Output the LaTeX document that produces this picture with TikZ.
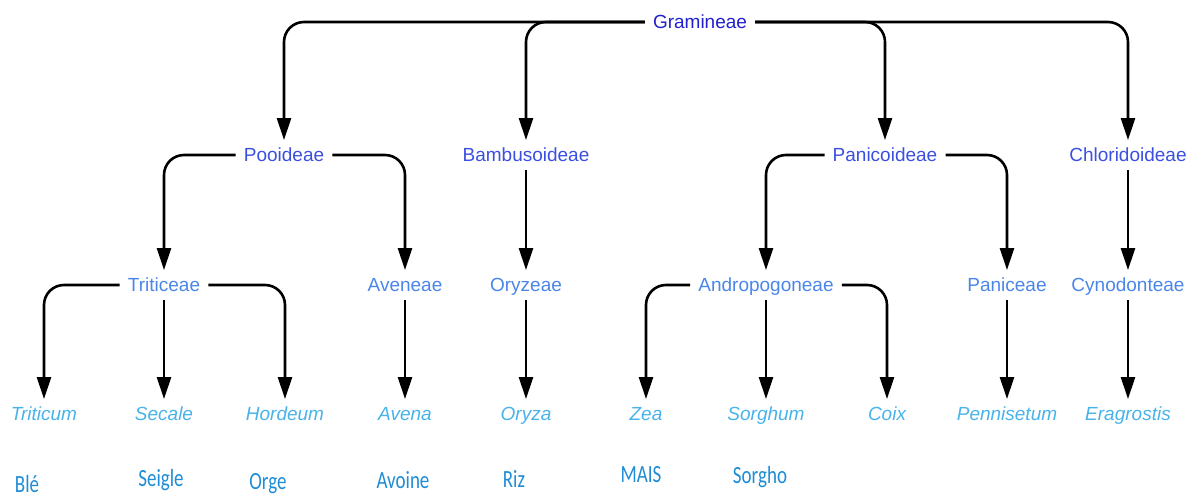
\documentclass[tikz,border=0pt]{standalone}
\usepackage{graphicx}
\usepackage{fontspec}
\setmainfont{Liberation Sans}
\newfontfamily\calib{Carlito}
\usetikzlibrary{arrows.meta}
\definecolor{cG}{HTML}{2020CC}
\definecolor{cA}{HTML}{3B4FE0}
\definecolor{cB}{HTML}{4A86EA}
\definecolor{cC}{HTML}{48B2EA}
\definecolor{cF}{HTML}{1E8CD6}
\newcommand{\frtxt}[1]{\scalebox{1}[1.3]{#1}}
\begin{document}
\begin{tikzpicture}[x=1pt,y=-1pt,
 lab/.style={font=\fontsize{19}{22}\selectfont, text height=13.5pt, text depth=0pt, inner xsep=8pt, inner ysep=8pt},
 l0/.style={lab,text=cG},
 l1/.style={lab,text=cA},
 l2/.style={lab,text=cB},
 l3/.style={lab,text=cC,font=\fontsize{19}{22}\selectfont\itshape},
 fr/.style={font=\calib\fontsize{19}{22}\selectfont,text=cF,inner sep=0pt},
 conn/.style={line width=2.6pt, rounded corners=20pt, -{Triangle[length=22pt,width=14pt]}},
 ]
\useasboundingbox (0,0) rectangle (1195,497);
% level 0
\node[l0] (G) at (700,22) {Gramineae};
% level 1
\node[l1] (P) at (284,155) {Pooideae};
\node[l1] (B) at (526,155) {Bambusoideae};
\node[l1] (N) at (885,155) {Panicoideae};
\node[l1] (C) at (1128,155) {Chloridoideae};
% level 2
\node[l2] (T) at (164,285) {Triticeae};
\node[l2] (Av) at (405,285) {Aveneae};
\node[l2] (O) at (526,285) {Oryzeae};
\node[l2] (An) at (766,285) {Andropogoneae};
\node[l2] (Pa) at (1007,285) {Paniceae};
\node[l2] (Cy) at (1128,285) {Cynodonteae};
% level 3
\node[l3] (tri) at (44,414) {Triticum};
\node[l3] (sec) at (164,414) {Secale};
\node[l3] (hor) at (285,414) {Hordeum};
\node[l3] (ave) at (405,414) {Avena};
\node[l3] (ory) at (526,414) {Oryza};
\node[l3] (zea) at (646,414) {Zea};
\node[l3] (sor) at (766,414) {Sorghum};
\node[l3] (coi) at (887,414) {Coix};
\node[l3] (pen) at (1007,414) {Pennisetum};
\node[l3] (era) at (1128,414) {Eragrostis};
% french names
\node[fr] (ble) at (27,484) {\frtxt{Blé}};
\node[fr] (sei) at (161,480) {\frtxt{Seigle}};
\node[fr] (org) at (268,484) {\frtxt{Orge}};
\node[fr] (avo) at (403,480) {\frtxt{Avoine}};
\node[fr] (riz) at (514,479) {\frtxt{Riz}};
\node[fr] (mai) at (641,475) {\frtxt{MAIS}};
\node[fr] (sgo) at (760,477) {\frtxt{Sorgho}};
% connectors
\draw[conn] (G.west) -| (P.north);
\draw[conn] (G.west) -| (B.north);
\draw[conn] (G.east) -| (N.north);
\draw[conn] (G.east) -| (C.north);
\draw[conn] (P.west) -| (T.north);
\draw[conn] (P.east) -| (Av.north);
\draw[conn] (B.south) -- (B.south |- O.north);
\draw[conn] (N.west) -| (An.north);
\draw[conn] (N.east) -| (Pa.north);
\draw[conn] (C.south) -- (C.south |- Cy.north);
\draw[conn] (T.west) -| (tri.north);
\draw[conn] (T.south) -- (T.south |- sec.north);
\draw[conn] (T.east) -| (hor.north);
\draw[conn] (Av.south) -- (Av.south |- ave.north);
\draw[conn] (O.south) -- (O.south |- ory.north);
\draw[conn] (An.west) -| (zea.north);
\draw[conn] (An.south) -- (An.south |- sor.north);
\draw[conn] (An.east) -| (coi.north);
\draw[conn] (Pa.south) -- (Pa.south |- pen.north);
\draw[conn] (Cy.south) -- (Cy.south |- era.north);
\end{tikzpicture}
\end{document}
